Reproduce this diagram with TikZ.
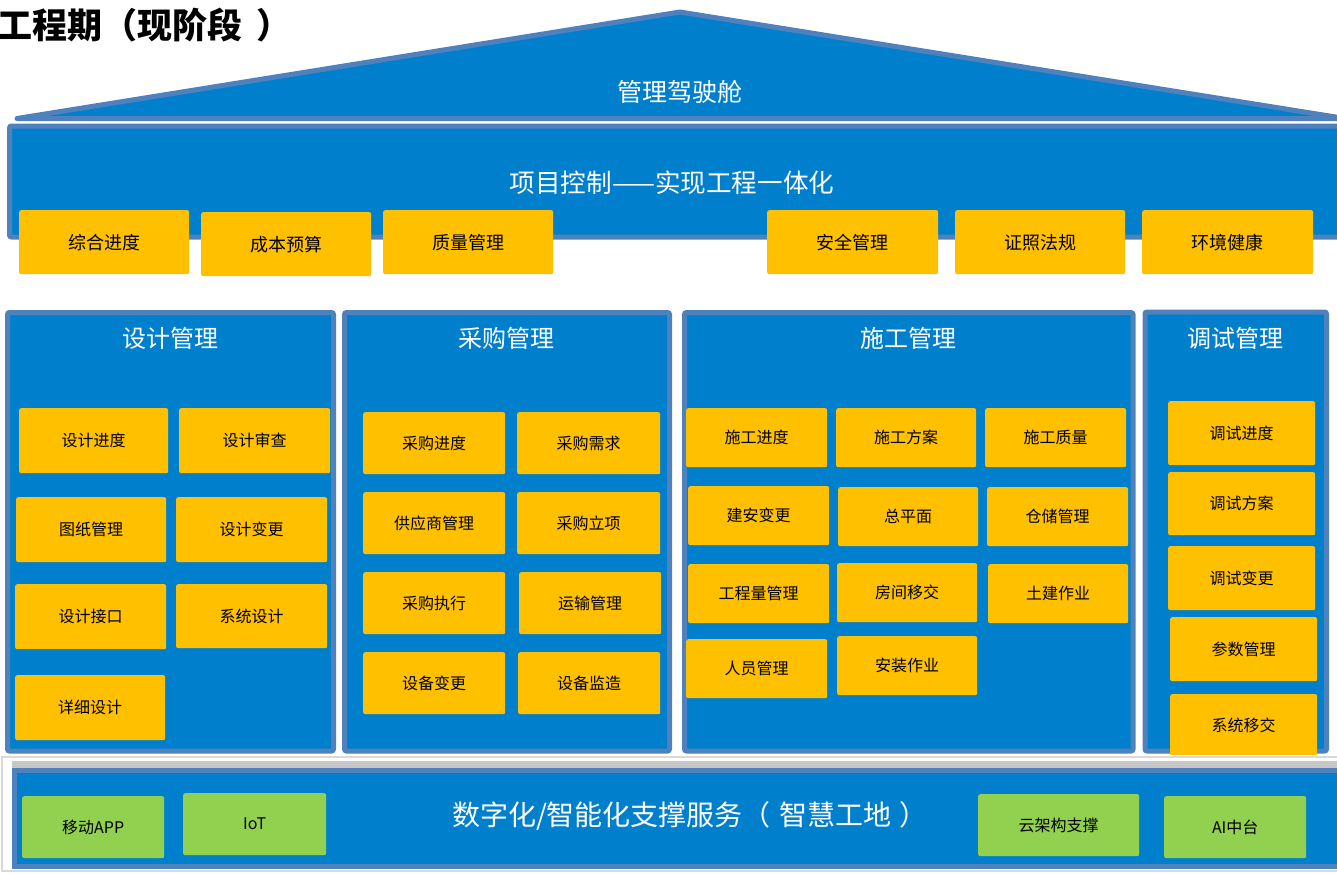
\documentclass[tikz,border=0pt]{standalone}
\usepackage{fontspec}
\newfontfamily\cjk{Noto Sans CJK SC}
\definecolor{mainblue}{RGB}{0,128,204}
\definecolor{bdr}{RGB}{79,129,189}
\definecolor{org}{RGB}{255,192,0}
\definecolor{grn}{RGB}{146,208,80}
\tikzset{
  panel/.style={draw=bdr, line width=5pt, fill=mainblue, rounded corners=2pt},
  obox/.style={fill=org, rounded corners=2pt, inner sep=0pt, text=black, font=\cjk\fontsize{16}{16}\selectfont},
  obig/.style={obox, font=\cjk\fontsize{18}{18}\selectfont},
  gbox/.style={fill=grn, rounded corners=2pt, inner sep=0pt, text=black, font=\cjk\fontsize{16}{16}\selectfont},
  ptitle/.style={text=white, inner sep=0pt, font=\cjk\fontsize{24}{24}\selectfont},
  btitle/.style={text=white, inner sep=0pt, font=\cjk\fontsize{25}{25}\selectfont}
}
\newcommand{\bx}[7]{\node[#1, anchor=north west, minimum width={#5pt-#3pt}, minimum height={#6pt-#4pt}] (#2) at (#3,#4) {#7};}
\begin{document}
\begin{tikzpicture}[x=1pt,y=-1pt]
\useasboundingbox (0,0) rectangle (1337,873);
% title
\node[anchor=west, inner sep=0pt, font=\cjk\bfseries\fontsize{35}{35}\selectfont] (title) at (-3,25) {工程期（现阶段\hspace{14pt}）};
% roof
\draw[draw=bdr, line width=5pt, fill=mainblue, line join=round] (17,118.5) -- (680,12) -- (1345,118.5) -- cycle;
\node[btitle] (roof) at (680,92) {管理驾驶舱};
% project control
\draw[panel] (9.5,126) rectangle (1342,237);
\node[btitle, font=\cjk\fontsize{25.6}{25.6}\selectfont] (proj) at (672,183) {项目控制——实现工程一体化};
\bx{obig}{zhjd}{19}{210}{189}{274}{综合进度}
\bx{obig}{cbys}{201}{212}{371}{276}{成本预算}
\bx{obig}{zlgl}{383}{210}{553}{274}{质量管理}
\bx{obig}{aqgl}{767}{210}{938}{274}{安全管理}
\bx{obig}{zzfg}{955}{210}{1125}{274}{证照法规}
\bx{obig}{hjjk}{1142}{210}{1313}{274}{环境健康}
% panels
\draw[panel] (7.5,312.5) rectangle (333.5,751);
\draw[panel] (344.5,312.5) rectangle (669.5,751);
\draw[panel] (684.5,312.5) rectangle (1133,751);
\draw[panel] (1145,312) rectangle (1326.5,751);
\node[ptitle] (sj) at (170,338) {设计管理};
\node[ptitle] (cg) at (506,338) {采购管理};
\node[ptitle] (sg) at (908,338) {施工管理};
\node[ptitle] (ts) at (1235,338) {调试管理};
% design
\bx{obox}{sjjd}{19}{408}{168}{473}{设计进度}
\bx{obox}{sjsc}{179}{408}{330}{473}{设计审查}
\bx{obox}{tzgl}{16}{497}{166}{562}{图纸管理}
\bx{obox}{sjbg}{176}{497}{327}{562}{设计变更}
\bx{obox}{sjjk}{15}{584}{166}{649}{设计接口}
\bx{obox}{xtsj}{176}{584}{327}{648}{系统设计}
\bx{obox}{xxsj}{15}{675}{165}{740}{详细设计}
% procurement
\bx{obox}{cgjd}{363}{412}{505}{474}{采购进度}
\bx{obox}{cgxq}{517}{412}{660}{474}{采购需求}
\bx{obox}{gysgl}{363}{492}{505}{554}{供应商管理}
\bx{obox}{cglx}{517}{492}{660}{554}{采购立项}
\bx{obox}{cgzx}{363}{572}{505}{634}{采购执行}
\bx{obox}{ysgl}{519}{572}{661}{634}{运输管理}
\bx{obox}{sbbg}{363}{652}{505}{714}{设备变更}
\bx{obox}{sbjz}{518}{652}{660}{714}{设备监造}
% construction
\bx{obox}{sgjd}{686}{408}{827}{467}{施工进度}
\bx{obox}{sgfa}{836}{408}{976}{467}{施工方案}
\bx{obox}{sgzl}{985}{408}{1126}{467}{施工质量}
\bx{obox}{jabg}{688}{486}{829}{545}{建安变更}
\bx{obox}{zpm}{838}{487}{978}{546}{总平面}
\bx{obox}{ccgl}{987}{487}{1128}{546}{仓储管理}
\bx{obox}{gclgl}{688}{564}{829}{623}{工程量管理}
\bx{obox}{fjyj}{837}{563}{977}{622}{房间移交}
\bx{obox}{tjzy}{988}{564}{1128}{623}{土建作业}
\bx{obox}{rygl}{686}{639}{827}{698}{人员管理}
\bx{obox}{azzy}{837}{636}{977}{695}{安装作业}
% commissioning
\bx{obox}{tsjd}{1168}{401}{1315}{465}{调试进度}
\bx{obox}{tsfa}{1168}{472}{1315}{535}{调试方案}
\bx{obox}{tsbg}{1168}{546}{1315}{610}{调试变更}
\bx{obox}{csgl}{1170}{617}{1317}{681}{参数管理}
\bx{obox}{xtyj}{1170}{694}{1317}{756}{系统移交}
% bottom band
\fill[white] (0,755) rectangle (1337,873);
\draw[black!15, line width=2pt] (2,757) rectangle (1345,871);
\fill[black!22] (12,761) rectangle (1345,768);
\draw[panel, rounded corners=0pt] (14.5,770) rectangle (1345,866);
\node[text=white, inner sep=0pt, font=\cjk\fontsize{28}{28}\selectfont] (base) at (690,816) {数字化/智能化支撑服务（\hspace{9pt}智慧工地\hspace{8pt}）};
\bx{gbox}{ydapp}{22}{796}{164}{858}{移动APP}
\bx{gbox}{iot}{183}{793}{326}{855}{IoT}
\bx{gbox}{yjg}{978}{794}{1139}{856}{云架构支撑}
\bx{gbox}{aizt}{1164}{796}{1306}{858}{AI中台}
\end{tikzpicture}
\end{document}
